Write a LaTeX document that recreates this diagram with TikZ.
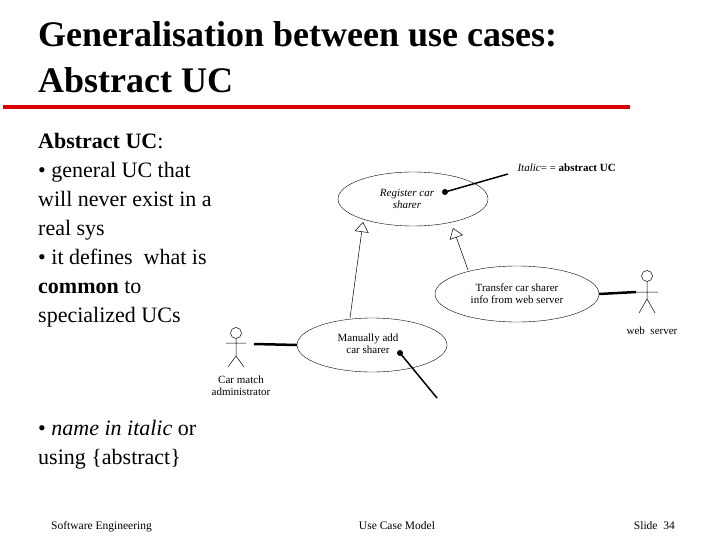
\documentclass[tikz,border=0pt]{standalone}
\usepackage{fontspec}
\setmainfont{Liberation Serif}
\usetikzlibrary{shapes.geometric,arrows.meta}
\begin{document}
\begin{tikzpicture}[x=1pt,y=-1pt,
  uc/.style={draw,ellipse,minimum width=#1,inner sep=0pt,font=\fontsize{11}{12}\selectfont,align=center},
  thick line/.style={line width=2.5pt},
  gen/.style={-{Triangle[open,length=10pt,width=14pt]},line width=0.5pt},
  small/.style={font=\fontsize{11}{12}\selectfont,align=center}]
\useasboundingbox (0,0) rectangle (720,540);
\node[anchor=base west,inner sep=0pt,font=\fontsize{36}{40}\selectfont\bfseries] (t1) at (38,47) {Generalisation between use cases:};
\node[anchor=base west,inner sep=0pt,font=\fontsize{36}{40}\selectfont\bfseries] (t2) at (38,93) {Abstract UC};
\draw[red!85!black,line width=4pt] (3,107) -- (630,107);
\node[anchor=north west,align=left,font=\fontsize{22}{29}\selectfont,inner sep=0pt] (lt) at (38,133)
{\textbf{Abstract UC}:\\ • general UC that\\ will never exist in a\\ real sys\\ • it defines\ \ what is\\ \textbf{common} to\\ specialized UCs};
\node[anchor=north west,align=left,font=\fontsize{22}{29}\selectfont,inner sep=0pt] (lb) at (38,420)
{• \textit{name in italic} or\\ using \{abstract\}};
\node[uc=150pt,minimum height=54pt] (reg) at (413,199) {};
\node[small,font=\fontsize{11}{12}\selectfont\itshape] at (407,199) {Register car\\ sharer};
\node[uc=164pt,minimum height=56pt] (tr) at (517,294) {Transfer car sharer\\ info from web server};
\node[uc=150pt,minimum height=54pt] (man) at (372,345) {};
\node[small] at (368,344) {Manually add\\ car sharer};
% actors
\begin{scope}[line width=0.5pt]
\draw (236,333) circle (5.5);
\draw (236,338.5) -- (236,356) (226,343) -- (246,343) (236,356) -- (228,367) (236,356) -- (244,367);
\draw (647,276) circle (5.5);
\draw (647,281.5) -- (647,299) (636,292) -- (658,292) (647,299) -- (639,313) (647,299) -- (655,313);
\end{scope}
\node[small,anchor=north] (cm) at (241,372) {Car match\\ administrator};
\node[small,anchor=north] (ws) at (652,323) {web\ \ server};
\coordinate (cmarm) at (254,344);
\coordinate (wsarm) at (636,292);
\draw[thick line] (cmarm) -- (man.west);
\draw[thick line] (tr.east) -- (wsarm);
\draw[gen] (350,318) -- (363,222);
\draw[gen] (468,270) -- (453,228);
% note
\coordinate (d1) at (445,192);
\coordinate (n1) at (508,174);
\fill (d1) circle (3);
\draw[line width=1.5pt] (d1) -- (n1);
\node[anchor=west,font=\fontsize{11}{12}\selectfont] (note) at (514,168) {\textit{Italic}= = \textbf{abstract UC}};
\coordinate (d2) at (400,353);
\coordinate (n2) at (437,398);
\fill (d2) circle (3);
\draw[line width=1.5pt] (d2) -- (n2);
% footer
\node[anchor=base west,inner sep=0pt,font=\fontsize{11.5}{14}\selectfont] (f1) at (51,529) {Software Engineering};
\node[anchor=base,inner sep=0pt,font=\fontsize{11.5}{14}\selectfont] (f2) at (397,529) {Use Case Model};
\node[anchor=base east,inner sep=0pt,font=\fontsize{11.5}{14}\selectfont] (f3) at (675,529) {Slide\ \ 34};
\end{tikzpicture}
\end{document}
